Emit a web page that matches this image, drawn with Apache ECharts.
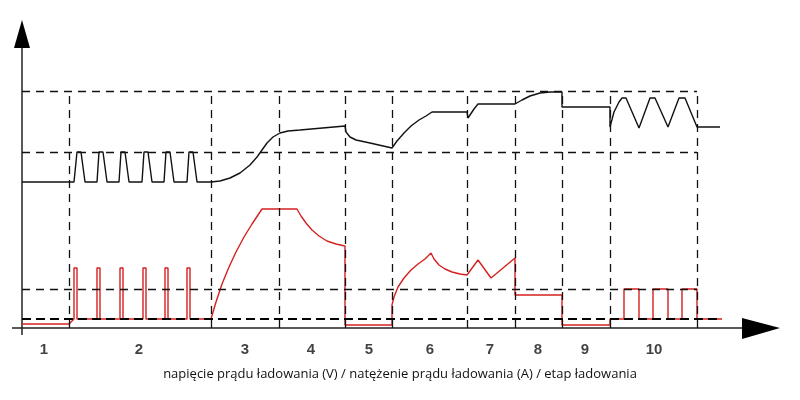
<!DOCTYPE html>
<html><head><meta charset="utf-8">
<script src="https://cdn.jsdelivr.net/npm/echarts@6/dist/echarts.min.js"></script>
<style>html,body{margin:0;background:#fff}#c{width:800px;height:400px}</style>
</head><body><div id="c"></div>
<script>
// schematic coordinates: x = time position, y = level (0 = bottom of picture)
var stageNames = ['1','2','3','4','5','6','7','8','9','10'];
var stageCenters = [44,139,245,311,369,430,490,538,585,654];
var stageBounds = [69,211,279,345,392,467,515,562,610,697];
var levels = [309,248,111]; // thin dashed horizontals
var baseLevel = 81;         // bold dashed horizontal

var voltage = [[22,218],[74,218],[77,248],[81,248],[85,218],
  [97,218],[99,248],[103,248],[107,218],[119,218],[121,248],[125,248],[129,218],
  [142,218],[144,248],[148,248],[152,218],[164,218],[166,248],[170,248],[174,218],
  [187,218],[189,248],[193,248],[197,218],[211,218],[220,219],[230,222],[240,227],[250,235],
  [257,243],[262,250],[267,257],[273,263],[280,267],[288,269],[300,270],[345,274],[346,268],
  [350,263],[356,260],[370,257],[392,252],[397,259],[404,267],[411,274],[419,280],[426,284],[432,288],
  [467,288],[468,282],[474,291],[478,296],[515,296],[522,300],[530,304],[540,307],[550,308],[562,308],
  [562,293],[610,293],[610,273],[614,288],[619,298],[622,302],[626,302],[639,272],[650,302],[655,302],
  [668,273],[679,302],[685,302],[697,273],[720,273]];

var current = [[22,76],[69,76],[74,81],[74,132],[77,132],[77,81],[97,81],[97,132],[100,132],[100,81],
  [120,81],[120,132],[123,132],[123,81],[143,81],[143,132],[146,132],[146,81],
  [165,81],[165,132],[168,132],[168,81],[187,81],[187,132],[190,132],[190,81],[211,81],
  [216,98],[222,116],[229,133],[236,148],[244,163],[252,176],[258,185],[262,191],[297,191],
  [301,184],[306,177],[312,170],[319,164],[327,159],[336,156],[345,154],
  [345,75],[392,75],[392,95],[394,103],[398,113],[404,122],[411,130],[418,136],[425,141],[431,147],
  [434,141],[439,135],[445,131],[452,128],[460,126],[467,125],[478,140],[491,122],[515,142],
  [515,105],[562,105],[562,75],[610,75],[610,81],
  [624,81],[624,111],[639,111],[639,81],[653,81],[653,111],[668,111],[668,81],
  [682,81],[682,111],[697,111],[697,81],[722,81]];

var dash = {color:'#111',type:[8,6],width:1.3};
var mk = [];
levels.forEach(function(v){ mk.push([{coord:[22,v],lineStyle:dash},{coord:[697,v]}]); });
mk.push([{coord:[22,baseLevel],lineStyle:{color:'#000',type:[9,5],width:2}},{coord:[722,baseLevel]}]);
stageBounds.forEach(function(x){ mk.push([{coord:[x,72],lineStyle:dash},{coord:[x,levels[0]]}]); });

var chart = echarts.init(document.getElementById('c'));
chart.setOption({
  animation:false,
  grid:{left:0,right:0,top:0,bottom:0},
  xAxis:{type:'value',min:0,max:800,show:false},
  yAxis:{type:'value',min:0,max:400,show:false},
  graphic:[
    {type:'line',shape:{x1:22,y1:40,x2:22,y2:335},style:{stroke:'#222',lineWidth:1.5}},
    {type:'polygon',shape:{points:[[14,48],[22,20],[30,48]]},style:{fill:'#000'}},
    {type:'line',shape:{x1:12,y1:328,x2:750,y2:328},style:{stroke:'#222',lineWidth:1.5}},
    {type:'polygon',shape:{points:[[742,318],[780,328],[742,339]]},style:{fill:'#000'}},
    {type:'text',left:'center',top:368,style:{text:'napięcie prądu ładowania (V) / natężenie prądu ładowania (A) / etap ładowania',font:'13px "Open Sans", Arial',fill:'#111'}}
  ],
  series:[
    {type:'line',data:voltage,symbol:'none',lineStyle:{color:'#111',width:1.4},
     markLine:{silent:true,symbol:'none',label:{show:false},data:mk}},
    {type:'line',data:current,symbol:'none',lineStyle:{color:'#d62020',width:1.4}},
    {type:'scatter',symbolSize:0,
     data:stageCenters.map(function(x,i){return {value:[x,50],name:stageNames[i]};}),
     label:{show:true,position:'inside',formatter:'{b}',fontWeight:'bold',fontSize:15,color:'#111',fontFamily:'Liberation Sans'}}
  ]
});
</script></body></html>
